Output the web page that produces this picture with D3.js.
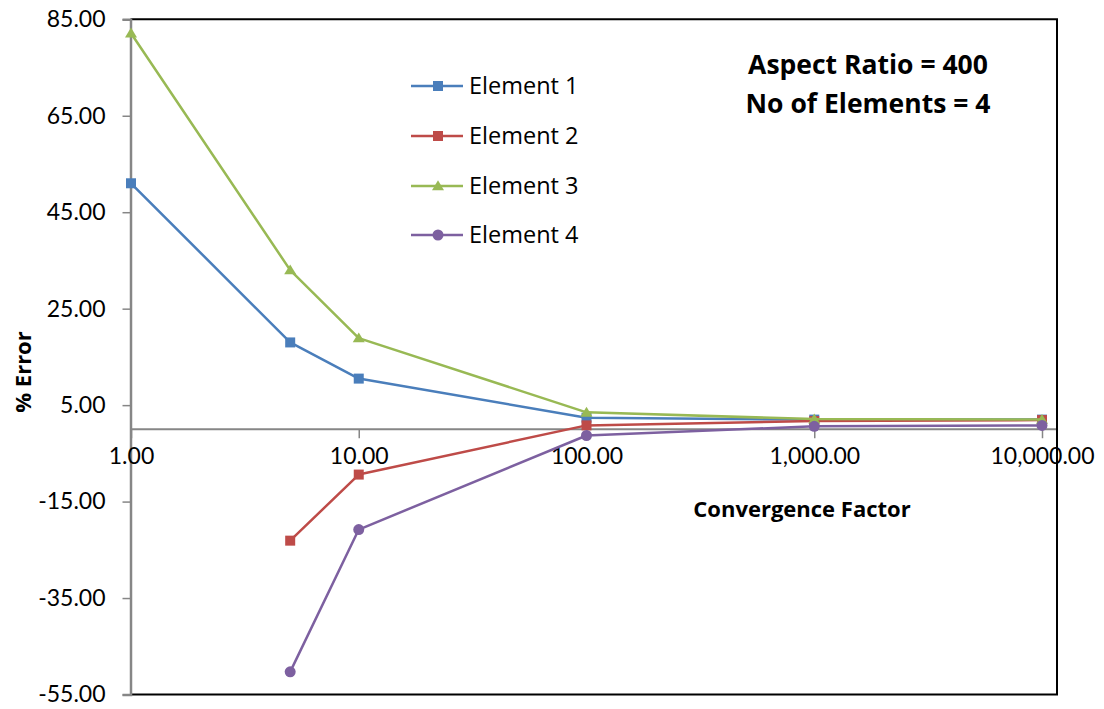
<!DOCTYPE html>
<html>
<head>
<meta charset="utf-8">
<script src="https://cdn.jsdelivr.net/npm/d3@7"></script>
<style>
  html, body { margin: 0; padding: 0; background: #fff; }
  svg { display: block; font-family: Lato, "Open Sans", sans-serif; }
</style>
</head>
<body>
<svg id="chart" width="1104" height="709"></svg>
<script>
// ---- data ----
const convergenceFactors = [1, 5, 10, 100, 1000, 10000];
const element1 = [51.0, 18.0, 10.5, 2.4, 2.0, 2.0];
const element2 = [null, -23.1, -9.4, 0.8, 1.7, 1.9];
const element3 = [82.1, 33.0, 18.9, 3.5, 2.1, 2.0];
const element4 = [null, -50.3, -20.8, -1.3, 0.6, 0.8];
const seriesNames = ["Element 1", "Element 2", "Element 3", "Element 4"];
const seriesColors = ["#4A7EBB", "#BE4B48", "#98B954", "#7D60A0"];
const seriesMarkers = ["square", "square", "triangle", "circle"];
const yTicks = [85, 65, 45, 25, 5, -15, -35, -55];
const xTicks = [1, 10, 100, 1000, 10000];
const xTitle = "Convergence Factor";
const yTitle = "% Error";
const notes = ["Aspect Ratio = 400", "No of Elements = 4"];

const seriesValues = [element1, element2, element3, element4];

// ---- layout ----
const pLeft = 130.5, pTop = 19.3, pBottom = 694.5, pRight = 1057;
const svg = d3.select("#chart");

const x = d3.scaleLog().domain([1, 10000]).range([131, 1042]);
const y = d3.scaleLinear().domain([-55, 85]).range([pBottom, pTop]);

const axisGray = "#868686";
const fmt2 = v => d3.format(",.2f")(v).replace("\u2212", "-");
const labelFont = "Lato, 'Open Sans', sans-serif";
const textFont = "'Open Sans', Lato, sans-serif";

// frame (top, right, bottom black)
svg.append("path")
  .attr("d", `M${pLeft},${pTop}H${pRight}V${pBottom}H${pLeft}`)
  .attr("fill", "none").attr("stroke", "#000").attr("stroke-width", 2);

// y axis
const yAxis = svg.append("g").attr("transform", `translate(${pLeft},0)`)
  .call(d3.axisLeft(y).tickValues(yTicks).tickSize(8).tickPadding(17).tickFormat(fmt2));
yAxis.select(".domain").attr("stroke", axisGray).attr("stroke-width", 2.5);
yAxis.selectAll(".tick line").attr("stroke", axisGray).attr("stroke-width", 1.5);
yAxis.selectAll(".tick text").attr("font-size", 23).attr("fill", "#000")
  .attr("font-family", labelFont);

// x axis at y=0
const xAxis = svg.append("g").attr("transform", `translate(0,${y(0)})`)
  .call(d3.axisBottom(x).tickValues(xTicks).tickSize(9).tickPadding(9).tickFormat(fmt2));
xAxis.select(".domain").remove();
xAxis.append("line").attr("x1", pLeft).attr("x2", pRight).attr("y1", 0).attr("y2", 0)
  .attr("stroke", axisGray).attr("stroke-width", 2);
xAxis.selectAll(".tick line").attr("stroke", axisGray).attr("stroke-width", 1.5);
xAxis.selectAll(".tick text").attr("font-size", 23).attr("fill", "#000")
  .attr("font-family", labelFont);

// redraw right frame segment over tick labels
svg.append("line").attr("x1", pRight).attr("x2", pRight).attr("y1", pTop).attr("y2", pBottom)
  .attr("stroke", "#000").attr("stroke-width", 2);

// markers
function drawMarker(g, type, color, cx, cy, s) {
  if (type === "square") {
    g.append("rect").attr("x", cx - s/2).attr("y", cy - s/2).attr("width", s).attr("height", s).attr("fill", color);
  } else if (type === "triangle") {
    const h = s * 0.95;
    g.append("path").attr("d", `M${cx},${cy - h*0.6}L${cx + s*0.6},${cy + h*0.45}L${cx - s*0.6},${cy + h*0.45}Z`).attr("fill", color);
  } else {
    g.append("circle").attr("cx", cx).attr("cy", cy).attr("r", s/2 + 0.5).attr("fill", color);
  }
}

const line = d3.line().defined(d => d.v !== null).x(d => x(d.x)).y(d => y(d.v));

seriesValues.forEach((vals, i) => {
  const pts = convergenceFactors.map((cf, j) => ({ x: cf, v: vals[j] }));
  const g = svg.append("g");
  g.append("path").datum(pts).attr("d", line).attr("fill", "none")
    .attr("stroke", seriesColors[i]).attr("stroke-width", 2.5).attr("stroke-linejoin", "round");
  pts.filter(d => d.v !== null).forEach(d => drawMarker(g, seriesMarkers[i], seriesColors[i], x(d.x), y(d.v), 10));
});

// legend
const legendY = [86, 136, 186, 235];
seriesNames.forEach((name, i) => {
  const g = svg.append("g").attr("transform", `translate(0,${legendY[i]})`);
  g.append("line").attr("x1", 411).attr("x2", 463).attr("y1", 0).attr("y2", 0)
    .attr("stroke", seriesColors[i]).attr("stroke-width", 2.5);
  drawMarker(g, seriesMarkers[i], seriesColors[i], 438, 0, 10);
  g.append("text").attr("x", 469).attr("y", 0).attr("dy", "0.36em")
    .attr("font-family", textFont).attr("font-size", 23.5).attr("fill", "#000").text(name);
});

// notes
svg.append("text").attr("x", 868).attr("y", 74).attr("text-anchor", "middle")
  .attr("font-family", textFont).attr("font-size", 26.5).attr("font-weight", "bold").text(notes[0]);
svg.append("text").attr("x", 868).attr("y", 113).attr("text-anchor", "middle")
  .attr("font-family", textFont).attr("font-size", 26.5).attr("font-weight", "bold").text(notes[1]);

// axis titles
svg.append("text").attr("x", 802).attr("y", 517).attr("text-anchor", "middle")
  .attr("font-family", textFont).attr("font-size", 22).attr("font-weight", "bold").text(xTitle);
svg.append("text").attr("transform", "translate(31,372) rotate(-90)").attr("text-anchor", "middle")
  .attr("font-family", textFont).attr("font-size", 22).attr("font-weight", "bold").text(yTitle);
</script>
</body>
</html>
